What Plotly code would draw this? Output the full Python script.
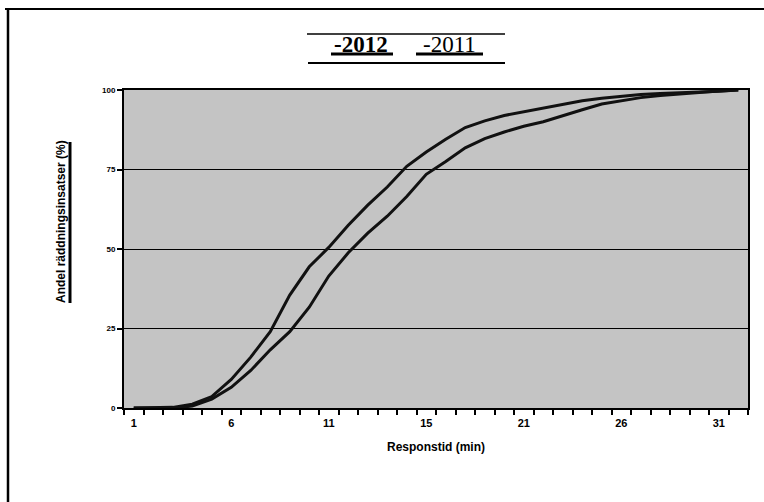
import plotly.graph_objects as go

minutes = list(range(1, 33))
serie_2012 = [0, 0, 0.2, 1.2, 3.6, 9.0, 16.0, 24, 35.5, 44.4, 50.5, 57.5, 63.8, 69.5, 76, 80.5,
              84.5, 88.2, 90.3, 92, 93.2, 94.2, 95.5, 96.6, 97.4, 98.1, 98.6, 98.9, 99.1, 99.3, 99.6, 100]
serie_2011 = [0, 0, 0, 0.6, 2.8, 6.5, 11.8, 18.3, 24, 31.7, 41.5, 48.8, 55, 60.3, 66.5, 73.5,
              77.5, 81.8, 84.7, 86.8, 88.6, 90, 92, 93.8, 95.6, 96.6, 97.6, 98.3, 98.8, 99.4, 99.7, 100]
x_tickvals = [1, 6, 11, 16, 21, 26, 31]
x_ticktext = ["1", "6", "11", "15", "21", "26", "31"]
y_tickvals = [0, 25, 50, 75, 100]
y_ticktext = ["0", "25", "50", "75", "100"]

W, H = 764, 502
L, R, T, B = 124, 748, 90, 408


def px(x):
    return (x - L) / (R - L)


def py(y):
    return (B - y) / (B - T)


fig = go.Figure()
fig.add_trace(go.Scatter(x=minutes, y=serie_2012, mode="lines", name="2012",
                         line=dict(color="#111111", width=3), showlegend=False))
fig.add_trace(go.Scatter(x=minutes, y=serie_2011, mode="lines", name="2011",
                         line=dict(color="#111111", width=3), showlegend=False))

fig.update_layout(
    width=W, height=H,
    margin=dict(l=L, r=W - R, t=T, b=H - B, pad=0),
    paper_bgcolor="white",
    plot_bgcolor="#c4c4c4",
    font=dict(family="Liberation Sans, Arial", color="black"),
)
fig.update_xaxes(
    range=[0.5, 32.5], tickmode="array", tickvals=x_tickvals, ticktext=x_ticktext,
    ticks="", showgrid=False, zeroline=False,
    showline=True, linecolor="black", linewidth=2, mirror=True,
    tickfont=dict(size=11, family="Liberation Sans, Arial", weight="bold"),
    minor=dict(ticks="outside", tick0=0.5, dtick=1, ticklen=5, tickwidth=2, tickcolor="black", showgrid=False),
    ticklabelstandoff=4,
)
fig.update_yaxes(
    range=[0, 100], tickmode="array", tickvals=y_tickvals, ticktext=y_ticktext,
    ticks="outside", ticklen=5, tickwidth=2, tickcolor="black",
    showgrid=True, gridcolor="black", gridwidth=1.2, zeroline=False,
    showline=True, linecolor="black", linewidth=2, mirror=True,
    tickfont=dict(size=8, family="Liberation Sans, Arial", weight="bold"),
)

annotations = [
    dict(text="Andel räddningsinsatser (%)", textangle=-90, x=px(61), y=py(222),
         xanchor="center", yanchor="middle",
         xref="paper", yref="paper", showarrow=False,
         font=dict(size=12, family="Liberation Sans, Arial", weight="bold")),
    dict(text="Responstid (min)", x=px(436), y=py(447), xanchor="center", yanchor="middle",
         xref="paper", yref="paper",
         showarrow=False, font=dict(size=12, family="Liberation Sans, Arial", weight="bold")),
    dict(text="-2012", x=px(361), y=py(45), xanchor="center", yanchor="middle",
         xref="paper", yref="paper", showarrow=False,
         font=dict(size=23, family="Liberation Serif, Times New Roman", weight="bold")),
    dict(text="-2011", x=px(449), y=py(45), xanchor="center", yanchor="middle",
         xref="paper", yref="paper", showarrow=False,
         font=dict(size=23, family="Liberation Serif, Times New Roman")),
]
fig.update_layout(annotations=annotations)

shapes = [
    # outer frame
    dict(type="line", xref="paper", yref="paper", x0=px(5), x1=px(764), y0=py(9), y1=py(9),
         line=dict(color="black", width=2)),
    dict(type="line", xref="paper", yref="paper", x0=px(8), x1=px(8), y0=py(10), y1=py(502),
         line=dict(color="black", width=2.5)),
    # legend box lines
    dict(type="line", xref="paper", yref="paper", x0=px(307), x1=px(505), y0=py(34), y1=py(34),
         line=dict(color="black", width=1.5)),
    dict(type="line", xref="paper", yref="paper", x0=px(308), x1=px(505), y0=py(63), y1=py(63),
         line=dict(color="black", width=2)),
    # underlines
    dict(type="line", xref="paper", yref="paper", x0=px(331), x1=px(393), y0=py(54), y1=py(54),
         line=dict(color="black", width=3)),
    dict(type="line", xref="paper", yref="paper", x0=px(416), x1=px(483), y0=py(54), y1=py(54),
         line=dict(color="black", width=3)),
    # y title underline
    dict(type="line", xref="paper", yref="paper", x0=px(70), x1=px(70), y0=py(142), y1=py(303),
         line=dict(color="black", width=3)),
]
fig.update_layout(shapes=shapes)

fig.write_html("out.html", config={"displayModeBar": False},
               post_script="document.body.style.margin='0';document.body.style.overflow='hidden';")
